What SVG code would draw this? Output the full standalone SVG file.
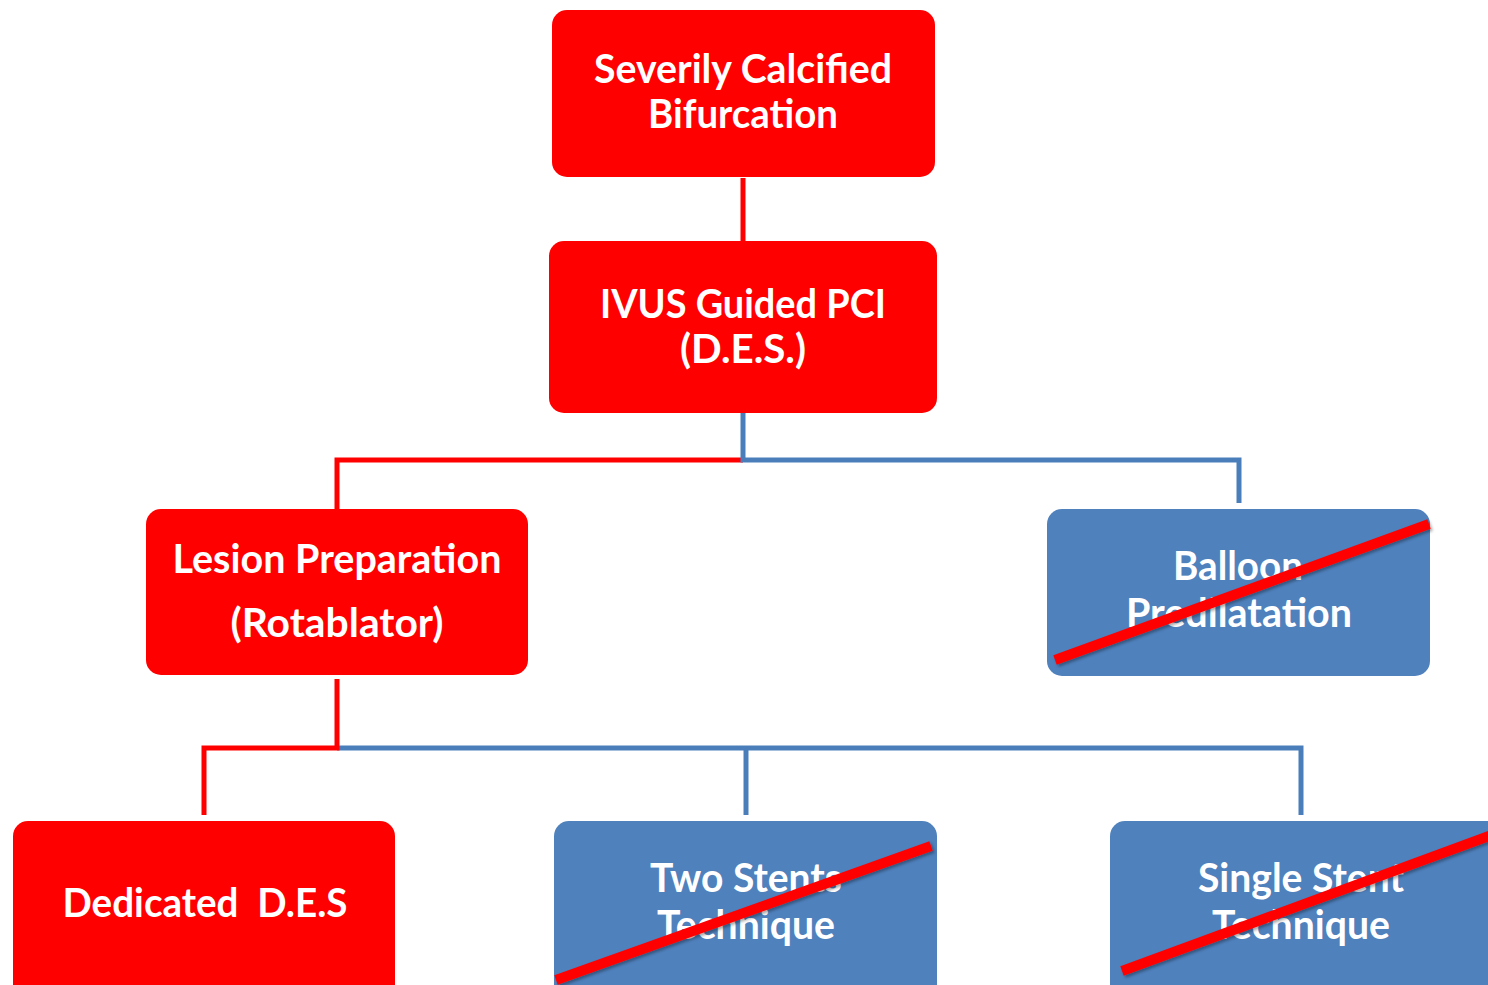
<svg xmlns="http://www.w3.org/2000/svg" width="1488" height="985" viewBox="0 0 1488 985">
<defs>
<style>
.red{fill:#FF0000}
.blue{fill:#4F81BD}
.t{font-family:Lato,"Open Sans","Liberation Sans",sans-serif;font-weight:bold;font-size:40px;fill:#FFFFFF;text-anchor:middle}
.cr{stroke:#FF0000;stroke-width:5;fill:none}
.cb{stroke:#4A7EBB;stroke-width:5;fill:none}
.x{stroke:#FF0000;stroke-width:10;stroke-linecap:butt;filter:url(#sh)}
</style>
<filter id="sh" x="-10%" y="-50%" width="120%" height="200%">
<feDropShadow dx="2" dy="2" stdDeviation="1.5" flood-color="#000" flood-opacity="0.35"/>
</filter>
</defs>
<rect width="1488" height="985" fill="#FFFFFF"/>
<g id="connectors">
<line class="cr" x1="743" y1="178" x2="743" y2="241"/>
<polyline class="cr" points="743,460 337,460 337,509"/>
<polyline class="cb" points="743,413 743,460 1239,460 1239,503"/>
<polyline class="cb" points="337,748 1301,748 1301,815"/>
<line class="cb" x1="746" y1="748" x2="746" y2="815"/>
<polyline class="cr" points="337,679 337,748 204,748 204,815"/>
</g>
<g id="n1">
<rect class="red" x="552" y="10" width="383" height="167" rx="15"/>
<text class="t" x="743" y="83" textLength="298" lengthAdjust="spacingAndGlyphs">Severily Calcified</text>
<text class="t" x="743" y="128" textLength="190" lengthAdjust="spacingAndGlyphs">Bifurcation</text>
</g>
<g id="n2">
<rect class="red" x="549" y="241" width="388" height="172" rx="15"/>
<text class="t" x="743" y="318" textLength="286" lengthAdjust="spacingAndGlyphs">IVUS Guided PCI</text>
<text class="t" x="743" y="363" textLength="126" lengthAdjust="spacingAndGlyphs">(D.E.S.)</text>
</g>
<g id="n3">
<rect class="red" x="146" y="509" width="382" height="166" rx="15"/>
<text class="t" x="337" y="573" textLength="329" lengthAdjust="spacingAndGlyphs">Lesion Preparation</text>
<text class="t" x="337" y="637" textLength="213" lengthAdjust="spacingAndGlyphs">(Rotablator)</text>
</g>
<g id="n4">
<rect class="blue" x="1047" y="509" width="383" height="167" rx="15"/>
<text class="t" x="1238" y="580" textLength="130" lengthAdjust="spacingAndGlyphs">Balloon</text>
<text class="t" x="1239" y="627" textLength="226" lengthAdjust="spacingAndGlyphs">Predilatation</text>
<line class="x" x1="1055" y1="660" x2="1429" y2="524"/>
</g>
<g id="n5">
<rect class="red" x="13" y="821" width="382" height="190" rx="15"/>
<text class="t" x="205" y="917" textLength="285" lengthAdjust="spacingAndGlyphs" xml:space="preserve">Dedicated  D.E.S</text>
</g>
<g id="n6">
<rect class="blue" x="554" y="821" width="383" height="190" rx="15"/>
<text class="t" x="746" y="892" textLength="192" lengthAdjust="spacingAndGlyphs">Two Stents</text>
<text class="t" x="746" y="939" textLength="178" lengthAdjust="spacingAndGlyphs">Technique</text>
<line class="x" x1="556" y1="980" x2="931" y2="846"/>
</g>
<g id="n7">
<rect class="blue" x="1110" y="821" width="400" height="190" rx="15"/>
<text class="t" x="1301" y="892" textLength="206" lengthAdjust="spacingAndGlyphs">Single Stent</text>
<text class="t" x="1301" y="939" textLength="178" lengthAdjust="spacingAndGlyphs">Technique</text>
<line class="x" x1="1122" y1="971" x2="1500" y2="832"/>
</g>
</svg>
